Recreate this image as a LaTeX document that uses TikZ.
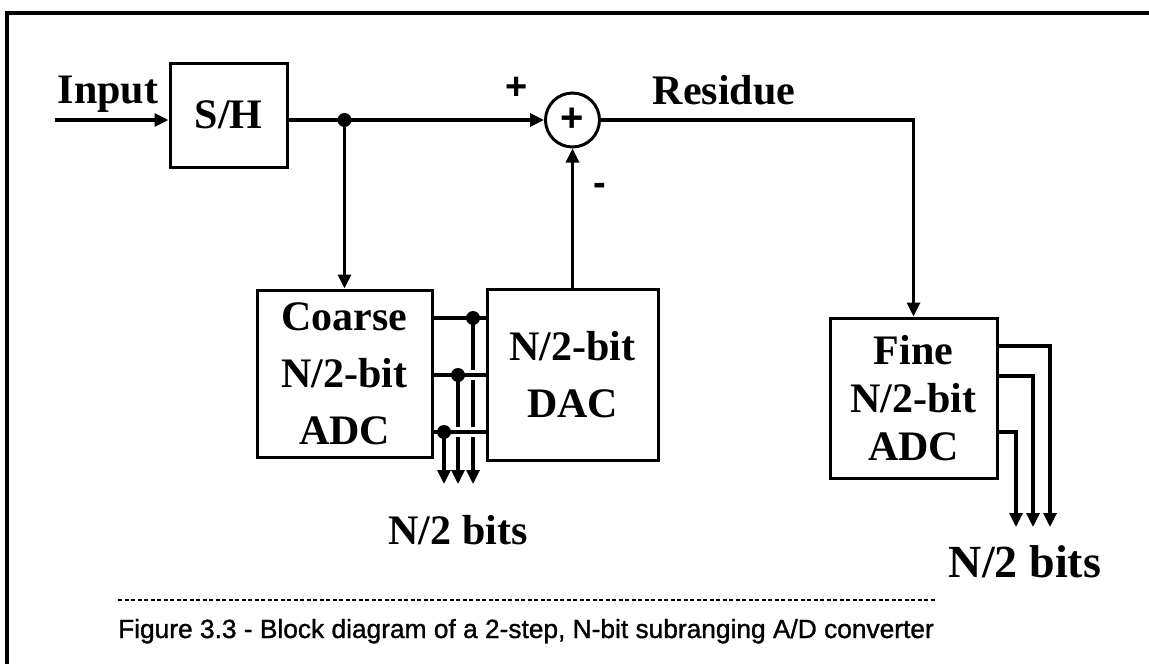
\documentclass[tikz,border=0pt]{standalone}
\usepackage{fontspec}
\setmainfont{Liberation Serif}
\setsansfont{Liberation Sans}
\newfontfamily\capfont[FakeBold=1.2]{Liberation Sans}
\newfontfamily\symfont{Liberation Sans}
\usetikzlibrary{arrows.meta}
\begin{document}
\begin{tikzpicture}[x=1pt,y=-1pt, line width=3.2pt,
  blk/.style={draw, line width=3pt, inner sep=0pt, align=center},
  big/.style={font=\bfseries\fontsize{42}{57}\selectfont},
  lbl/.style={font=\bfseries\fontsize{42}{50}\selectfont, inner sep=0pt},
  arr/.style={-{Triangle[length=14pt,width=13pt]}},
  gap/.style={white, line width=10pt}]
\useasboundingbox (0,0) rectangle (1149,664);
% frame
\draw[line width=3.8pt] (1149,13) -- (7,13) -- (7,664);
% blocks
\node[blk, big, minimum width=117pt, minimum height=104pt] (sh) at (228.5,115) {S/H};
\node[blk, big, minimum width=175pt, minimum height=167pt] (co) at (344.5,373.5) {Coarse\\N/2-bit\\ADC};
\node[blk, big, minimum width=171pt, minimum height=171pt] (dac) at (572.5,374.5) {N/2-bit\\DAC};
\node[blk, font=\bfseries\fontsize{42}{48}\selectfont, minimum width=167pt, minimum height=160pt] (fine) at (913.5,398) {Fine\\N/2-bit\\ADC};
\node[draw, circle, line width=3pt, minimum size=54pt, inner sep=0pt] (sum) at (572.5,120) {};
\node[font=\symfont\bfseries\fontsize{40}{40}\selectfont, inner sep=0pt] (sump) at (sum.center) {+};
% labels
\node[lbl, anchor=base] (lin) at (108,103) {Input};
\node[font=\symfont\bfseries\fontsize{38}{38}\selectfont, inner sep=0pt] (lp) at (517,88) {+};
\node[font=\symfont\bfseries\fontsize{38}{38}\selectfont, inner sep=0pt] (lm) at (600,189) {-};
\node[lbl, anchor=base] (lres) at (724,104) {Residue};
\node[lbl] (lb1) at (458,530) {N/2 bits};
\node[font=\bfseries\fontsize{46}{50}\selectfont, inner sep=0pt] (lb2) at (1025,562) {N/2 bits};
% main signal path
\coordinate (in) at (55,120);
\coordinate (d1) at (344.5,120);
\coordinate (rc) at (913.5,120);
\draw[arr] (in) -- (sh.west |- in);
\draw (sh.east |- d1) -- (d1);
\draw[arr] (d1) -- (sum.west);
\draw[arr] (d1) -- (co.north);
\draw[arr] (dac.north) -- (sum.south);
\draw[arr] (sum.east) -- (rc) -- (fine.north);
\fill (d1) circle (7pt);
% coarse -> DAC bus
\coordinate (j1) at (473,318);
\coordinate (j2) at (458,375);
\coordinate (j3) at (444,432);
\coordinate (b1) at (473,484);
\coordinate (b2) at (458,484);
\coordinate (b3) at (444,484);
\draw[arr] (j1) -- (b1);
\draw[arr] (j2) -- (b2);
\draw[arr] (j3) -- (b3);
\draw[gap] (465,375) -- (481,375);
\draw[gap] (450,432) -- (481,432);
\draw (co.east |- j1) -- (dac.west |- j1);
\draw (co.east |- j2) -- (dac.west |- j2);
\draw (co.east |- j3) -- (dac.west |- j3);
\fill (j1) circle (7pt);
\fill (j2) circle (7pt);
\fill (j3) circle (7pt);
% fine outputs
\coordinate (f1) at (1050,346);
\coordinate (f2) at (1033,376);
\coordinate (f3) at (1016,432);
\coordinate (g1) at (1050,527);
\coordinate (g2) at (1033,527);
\coordinate (g3) at (1016,527);
\draw[arr] (fine.east |- f1) -- (f1) -- (g1);
\draw[arr] (fine.east |- f2) -- (f2) -- (g2);
\draw[arr] (fine.east |- f3) -- (f3) -- (g3);
% caption
\coordinate (c1) at (118,600);
\coordinate (c2) at (935,600);
\draw[line width=1.6pt, dash pattern=on 4pt off 2.5pt] (c1) -- (c2);
\node[font=\capfont\fontsize{26.3}{26}\selectfont, anchor=base] (cap) at (526,638) {Figure 3.3 - Block diagram of a 2-step, N-bit subranging A/D converter};
\end{tikzpicture}
\end{document}
